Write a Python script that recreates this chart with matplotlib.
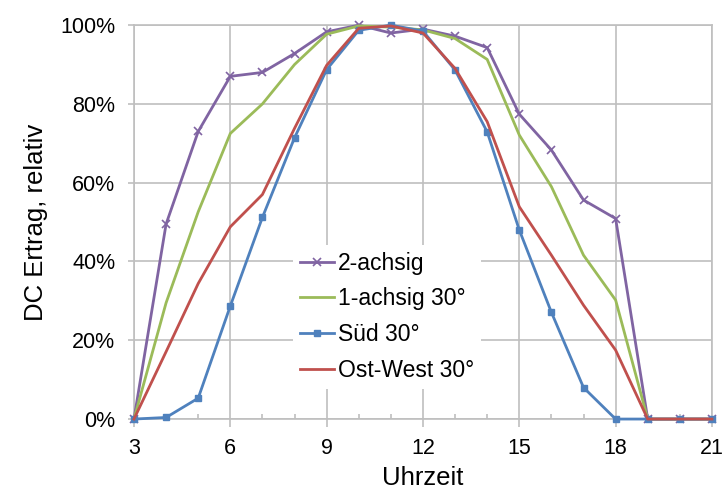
import matplotlib
matplotlib.use('Agg')
import matplotlib.pyplot as plt
from matplotlib.ticker import MultipleLocator, FuncFormatter

# Uhrzeit (h)
hours = [3, 4, 5, 6, 7, 8, 9, 10, 11, 12, 13, 14, 15, 16, 17, 18, 19, 20, 21]

# DC Ertrag relativ (%)
zwei_achsig = [0, 49.5, 73, 87, 88, 92.8, 98.3, 100, 98, 99, 97.2, 94.3, 77.4, 68.3, 55.6, 50.9, 0, 0, 0]
ein_achsig = [0, 29.5, 52.6, 72.5, 80, 90, 97.7, 99.8, 99.5, 98.8, 96.6, 91.3, 72.1, 59, 41.6, 30.2, 0, 0, 0]
sued = [0, 0.4, 5.3, 28.7, 51.2, 71.4, 88.7, 98.7, 100, 98.5, 88.6, 72.9, 48, 27.1, 8, 0, 0, 0, 0]
ost_west = [0, 17.1, 34.4, 48.8, 57, 73.8, 89.8, 99.2, 99.8, 98, 89, 75.5, 53.9, 41.6, 28.9, 17.5, 0, 0, 0]

labels = ['2-achsig', '1-achsig 30°', 'Süd 30°', 'Ost-West 30°']

plt.rcParams['font.family'] = ['Liberation Sans', 'DejaVu Sans']

fig = plt.figure(figsize=(7.25, 4.93), dpi=100)
ax = fig.add_axes([0.1848, 0.150, 0.7972, 0.799])

lw = 2.0
ax.plot(hours, zwei_achsig, color='#8064A2', lw=lw, marker='x', ms=6, mew=1.2,
        label=labels[0], clip_on=False, zorder=3)
ax.plot(hours, ein_achsig, color='#9BBB59', lw=lw,
        label=labels[1], clip_on=False, zorder=3)
ax.plot(hours, sued, color='#4F81BD', lw=lw, marker='s', ms=5,
        label=labels[2], clip_on=False, zorder=3)
ax.plot(hours, ost_west, color='#C0504D', lw=lw,
        label=labels[3], clip_on=False, zorder=4)

ax.set_xlim(3, 21)
ax.set_ylim(0, 100)
ax.xaxis.set_major_locator(MultipleLocator(3))
ax.xaxis.set_minor_locator(MultipleLocator(1))
ax.yaxis.set_major_locator(MultipleLocator(20))
ax.yaxis.set_major_formatter(FuncFormatter(lambda v, p: '%d%%' % v))

ax.grid(True, which='major', color='#BFBFBF', lw=1.2)
ax.set_axisbelow(True)
for s in ax.spines.values():
    s.set_color('#BFBFBF')
    s.set_linewidth(1.2)

ax.tick_params(axis='x', which='major', direction='out', length=6, width=1.2,
               color='#BFBFBF', labelsize=15.5, pad=8)
ax.tick_params(axis='x', which='minor', direction='in', length=3.5, width=1.2,
               color='#BFBFBF')
ax.tick_params(axis='y', which='major', direction='out', length=4.5, width=1.2,
               color='#BFBFBF', labelsize=15.5, pad=9)

ax.set_xlabel('Uhrzeit', fontsize=18.5, labelpad=5)
ax.set_ylabel('DC Ertrag, relativ', fontsize=18.5, labelpad=9)

leg = ax.legend(loc='upper left', bbox_to_anchor=(0.275, 0.442), borderaxespad=0,
                fontsize=16.5, frameon=True, fancybox=False, framealpha=1,
                facecolor='white', edgecolor='none', handlelength=1.5,
                handletextpad=0.15, labelspacing=0.55, borderpad=0.3)
leg.set_zorder(5)

fig.savefig('out.png', dpi=100)
